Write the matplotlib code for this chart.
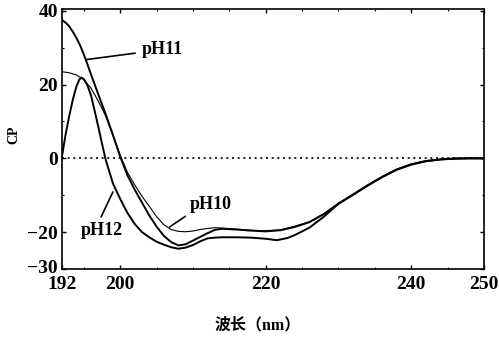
import matplotlib
matplotlib.use("Agg")
import matplotlib.pyplot as plt
import matplotlib.transforms as mtransforms
from matplotlib.ticker import MultipleLocator

# ---- data ----
wl_ph10 = [192, 193, 194, 195, 196, 197, 198, 199, 200, 201, 202, 203, 204, 205, 206, 207,
           208, 209, 210, 211, 212, 213, 214, 216, 218, 220, 222, 224, 226, 228, 230, 232,
           234, 236, 238, 240, 242, 244, 246, 248, 250]
cp_ph10 = [23.5, 23.2, 22.6, 21.3, 19.0, 15.5, 11.5, 6.5, 0.8, -3.8, -7.2, -10.3, -13.0, -15.8,
           -18.0, -19.3, -19.8, -19.9, -19.7, -19.3, -19.0, -18.8, -18.9, -19.2, -19.5, -19.6,
           -19.4, -18.4, -17.2, -15.0, -12.2, -9.8, -7.3, -5.0, -3.0, -1.6, -0.7, -0.3, -0.1,
           0.0, 0.0]

wl_ph11 = [192, 192.5, 193, 193.5, 194, 194.5, 195, 195.5, 196, 196.5, 197, 198, 199, 200, 201,
           202, 203, 204, 205, 206, 207, 208, 209, 210, 211, 212, 213, 214, 216, 218, 220, 222,
           224, 226, 228, 230, 232, 234, 236, 238, 240, 242, 244, 246, 248, 250]
cp_ph11 = [37.5, 36.8, 35.8, 34.3, 32.6, 30.6, 28.2, 25.5, 22.7, 20.0, 17.3, 12.0, 6.3, 0.5,
           -4.6, -8.5, -12.0, -15.5, -18.5, -21.0, -22.7, -23.6, -23.3, -22.3, -21.3, -20.3,
           -19.4, -19.1, -19.3, -19.6, -19.8, -19.5, -18.6, -17.3, -15.1, -12.3, -9.9, -7.4,
           -5.1, -3.1, -1.7, -0.8, -0.3, -0.1, 0.0, 0.0]

wl_ph12 = [192, 192.5, 193, 193.5, 194, 194.4, 194.7, 195, 195.5, 196, 196.5, 197, 197.5, 198,
           199, 200, 201, 202, 203, 204, 205, 206, 207, 208, 209, 210, 211, 212, 213, 214, 216,
           218, 220, 221.5, 223, 224, 226, 228, 230, 232, 234, 236, 238, 240, 242, 244, 246,
           248, 250]
cp_ph12 = [0.5, 6.5, 11.5, 16.0, 19.6, 21.4, 21.9, 21.5, 19.8, 17.0, 12.8, 8.5, 4.0, -0.3,
           -6.8, -11.0, -14.8, -17.8, -20.0, -21.4, -22.6, -23.4, -24.1, -24.5, -24.2, -23.5,
           -22.5, -21.7, -21.5, -21.4, -21.4, -21.5, -21.8, -22.2, -21.6, -20.8, -18.8, -15.8,
           -12.3, -9.8, -7.3, -5.0, -3.0, -1.6, -0.7, -0.3, 0.0, 0.0, 0.0]

x_ticks = [192, 200, 220, 240, 250]
y_ticks = [-30, -20, 0, 20, 40]
labels = ["pH10", "pH11", "pH12"]

serif = ["Liberation Serif", "DejaVu Serif"]
cjk = ["Liberation Serif", "Noto Sans CJK SC", "DejaVu Sans"]

fig = plt.figure(figsize=(4.99, 3.37), dpi=100)
ax = fig.add_axes([0.1242, 0.2018, 0.8458, 0.7715])

ax.axhline(0, color="black", lw=1.2, ls=(0, (1.2, 2.2)), zorder=1)
ax.plot(wl_ph10, cp_ph10, color="black", lw=0.8)
ax.plot(wl_ph11, cp_ph11, color="black", lw=1.4)
ax.plot(wl_ph12, cp_ph12, color="black", lw=1.4)

ax.set_xlim(192, 250)
ax.set_ylim(-30, 40.5)
ax.set_xticks(x_ticks)
ax.set_yticks(y_ticks)
ax.xaxis.set_minor_locator(MultipleLocator(5))
ax.yaxis.set_minor_locator(MultipleLocator(10))
ax.tick_params(which="major", direction="in", length=3, width=1, pad=3,
               top=True, right=True)
ax.tick_params(axis="x", which="major", pad=5)
ax.tick_params(which="minor", direction="in", length=1.5, width=0.8, top=True, right=True)
for lab in ax.get_xticklabels() + ax.get_yticklabels():
    lab.set_fontfamily(serif)
    lab.set_fontweight("bold")
    lab.set_fontsize(14)
for s in ax.spines.values():
    s.set_linewidth(1.2)

# nudge the lowest y tick label up slightly so it clears the first x tick label
shift = mtransforms.ScaledTranslation(0, 2 / 72, fig.dpi_scale_trans)
ylabs = ax.get_yticklabels()
ylabs[0].set_transform(ylabs[0].get_transform() + shift)

fig.text(14 / 499, 1 - 135 / 337, "CP", family=serif, fontweight="bold", fontsize=10,
         rotation=90, ha="center", va="center")
fig.text(258 / 499, 1 - 325 / 337, "波长（nm）", family=cjk, fontweight="bold",
         fontsize=11.5, ha="center", va="center")

fs = 13
ax.annotate(labels[1], xy=(195.4, 26.8), xytext=(203.0, 29.5), family=serif,
            fontweight="bold", fontsize=fs, ha="left", va="center",
            arrowprops=dict(arrowstyle="-", color="black", lw=1.2, shrinkA=3, shrinkB=0))
ax.annotate(labels[0], xy=(206.8, -18.6), xytext=(209.5, -12.6), family=serif,
            fontweight="bold", fontsize=fs, ha="left", va="center",
            arrowprops=dict(arrowstyle="-", color="black", lw=1.2, shrinkA=1, shrinkB=0,
                            relpos=(0.1, 0.15)))
ax.annotate(labels[2], xy=(199.0, -9.1), xytext=(197.5, -19.6), family=serif,
            fontweight="bold", fontsize=fs, ha="center", va="center",
            arrowprops=dict(arrowstyle="-", color="black", lw=1.2, shrinkA=2, shrinkB=0,
                            relpos=(0.42, 1.0)))

fig.savefig("out.png", dpi=100)
